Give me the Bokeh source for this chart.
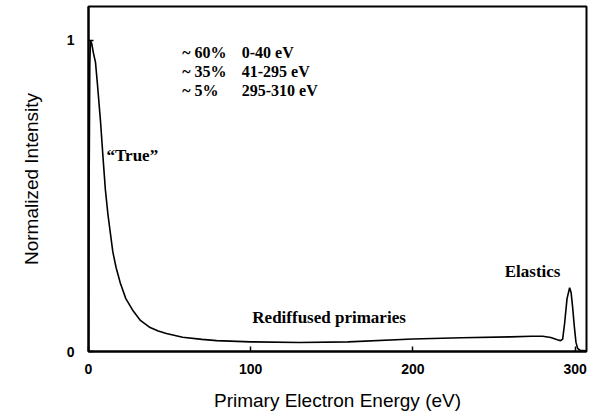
from bokeh.plotting import figure
from bokeh.models import FixedTicker, ColumnDataSource
from bokeh.core.properties import value
from bokeh.embed import file_html
from bokeh.resources import INLINE

# Secondary electron energy distribution (normalized)
energy = [0, 0.4, 0.8, 1.2, 2.0, 3.0, 4.3, 5.5, 7.4, 9.0, 10.4, 12.0, 13.5, 15.0,
          17.0, 19.6, 23.0, 27.6, 32.0, 38.0, 43.0, 48.0, 58.0, 70.0, 79.0, 100.0,
          130.0, 160.0, 200.0, 230.0, 260.0, 273.0, 280.0, 285.0, 289.0, 291.0,
          292.3, 293.5, 295.0, 296.6, 297.5, 298.5, 299.5, 300.5, 301.5, 303.0, 307.0]
intensity = [0.0, 0.55, 0.92, 1.0, 0.99, 0.96, 0.93, 0.86, 0.74, 0.62, 0.52, 0.44,
             0.38, 0.32, 0.27, 0.22, 0.17, 0.13, 0.10, 0.077, 0.066, 0.058, 0.046,
             0.039, 0.035, 0.031, 0.029, 0.031, 0.040, 0.044, 0.047, 0.049, 0.049,
             0.045, 0.038, 0.035, 0.040, 0.09, 0.17, 0.205, 0.19, 0.14, 0.08, 0.03,
             0.01, 0.004, 0.002]

x_ticks = [0, 100, 200, 300]
y_ticks = [0, 1]

share_pct = ["~ 60%", "~ 35%", "~ 5%"]
share_range = ["0-40 eV", "41-295 eV", "295-310 eV"]
share_y = [0.96, 0.90, 0.84]

region_labels = ["\u201cTrue\u201d", "Rediffused primaries", "Elastics"]
region_x = [11.1, 148.3, 256.6]
region_y = [0.63, 0.108, 0.257]
region_align = ["left", "center", "left"]

p = figure(width=590, height=414, x_range=(0, 307), y_range=(0, 1.109),
           output_backend="svg", toolbar_location=None,
           min_border_left=88, min_border_right=4, min_border_top=6,
           min_border_bottom=63)
p.background_fill_color = "white"
p.border_fill_color = "white"
p.outline_line_color = "black"
p.outline_line_width = 2
p.xgrid.visible = False
p.ygrid.visible = False

p.line(energy, intensity, line_color="black", line_width=1.6)

for ax in (p.xaxis[0], p.yaxis[0]):
    ax.axis_line_width = 2
    ax.axis_line_color = "black"
    ax.major_tick_in = 5
    ax.major_tick_out = 0
    ax.major_tick_line_width = 1.5
    ax.minor_tick_line_color = None
    ax.major_label_text_font = "Liberation Sans"
    ax.major_label_text_font_style = "bold"
    ax.major_label_text_font_size = "14px"
    ax.major_label_text_color = "black"
    ax.axis_label_text_font = "Liberation Sans"
    ax.axis_label_text_font_style = "normal"
    ax.axis_label_text_font_size = "19px"
    ax.axis_label_text_color = "black"

p.xaxis.ticker = FixedTicker(ticks=x_ticks)
p.yaxis.ticker = FixedTicker(ticks=y_ticks)
p.xaxis.axis_label = "Primary Electron Energy (eV)"
p.yaxis.axis_label = "Normalized Intensity"
p.xaxis.major_label_standoff = 12
p.xaxis.axis_label_standoff = 13
p.yaxis.major_label_standoff = 14
p.yaxis.axis_label_standoff = 22

serif = value("Liberation Serif")

share_src = ColumnDataSource(dict(x=[57.8] * 3, x2=[94.5] * 3, y=share_y,
                                  pct=share_pct, rng=share_range))
p.text(x="x", y="y", text="pct", source=share_src, text_font=serif,
       text_font_style="bold", text_font_size="16px", text_baseline="middle",
       text_color="black")
p.text(x="x2", y="y", text="rng", source=share_src, text_font=serif,
       text_font_style="bold", text_font_size="16px", text_baseline="middle",
       text_color="black")

region_src = ColumnDataSource(dict(x=region_x, y=region_y, t=region_labels,
                                   a=region_align))
p.text(x="x", y="y", text="t", source=region_src, text_font=serif,
       text_font_style="bold", text_font_size="17px", text_baseline="middle",
       text_align="a", text_color="black")

open("out.html", "w").write(file_html(p, INLINE))
